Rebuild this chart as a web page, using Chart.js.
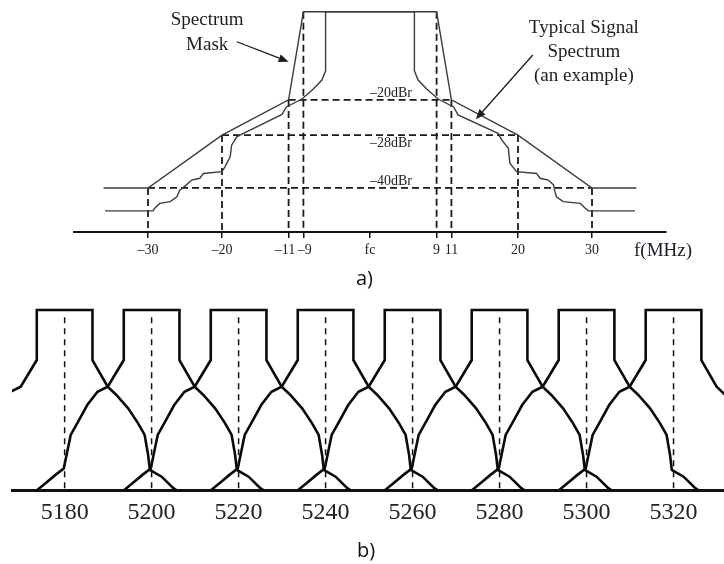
<!DOCTYPE html>
<html><head><meta charset="utf-8">
<script src="https://cdn.jsdelivr.net/npm/chart.js@4/dist/chart.umd.min.js"></script>
<style>
html,body{margin:0;padding:0;background:#fff;}
#wrap{position:relative;width:724px;height:564px;overflow:hidden;background:#fff;}
canvas{position:absolute;left:0;}
#ca{top:0;}
#cb{top:290px;}
.lbl{position:absolute;font-family:'Open Sans',sans-serif;font-size:20px;color:#111;line-height:1;}
</style></head><body>
<div id="wrap">
<canvas id="ca" width="724" height="262"></canvas>
<canvas id="cb" width="724" height="240"></canvas>
<div class="lbl" style="left:356px;top:268px">a)</div>
<div class="lbl" style="left:357px;top:540px">b)</div>
</div>
<script>
// ---------- Panel a data (MHz offset from fc, dBr) ----------
const maskFreq = [-36, -30, -20, -11, -9, 9, 11, 20, 30, 36];
const maskDb   = [-40, -40, -28, -20, 0, 0, -20, -28, -40, -40];
const signalFreq = [-35.8, -29.3, -29.1, -28.4, -27.0, -26.1, -25.7, -24.8, -24.1, -23.0, -22.5, -20.0, -19.6, -18.9, -18.7, -18.0, -17.3, -11.9, -11.3, -9.2, -7.7, -6.5, -6.0, -6.0,
                    6.0, 6.0, 6.5, 7.7, 9.2, 11.3, 11.9, 17.3, 17.8, 18.7, 18.9, 19.8, 22.5, 23.0, 24.1, 24.8, 25.0, 25.2, 26.1, 28.4, 29.1, 29.5, 35.8];
const signalDb   = [-45.2, -45.2, -44.6, -43.5, -43.1, -42.0, -40.5, -39.3, -38.2, -37.8, -36.7, -36.3, -35.2, -32.9, -30.3, -28.4, -27.8, -23.3, -21.6, -19.8, -17.6, -15.5, -13.4, 0,
                    0, -13.4, -15.5, -17.6, -19.8, -21.6, -23.4, -27.6, -29.1, -31.0, -34.4, -36.3, -36.7, -37.8, -38.2, -39.3, -40.9, -42.0, -43.1, -43.5, -44.6, -45.2, -45.2];
const tickFreqA   = [-30, -20, -11, -9, 0, 9, 11, 20, 30];
const tickLabelsA = ['\u201330', '\u201320', '\u201311\u2002', '\u2009\u20139', 'fc', '9', '11', '20', '30'];
const levelDb     = [-20, -28, -40];
const levelLabels = ['\u201320dBr', '\u201328dBr', '\u201340dBr'];
const floorDb = -50;

// ---------- Panel b data ----------
const channels = [5180, 5200, 5220, 5240, 5260, 5280, 5300, 5320];
const profileOffset = [-26.3, -24.4, -22.1, -20.2, -19.4, -18.6, -16.7, -14.8, -12.45, -10.1, -6.4, -6.4,
                       6.4, 6.4, 9.9, 11.9, 14.6, 16.9, 18.4, 19.2, 19.6, 22.3, 25.0, 25.7];
const profileDb     = [-50, -48.1, -45.8, -44.0, -39.4, -34.7, -30.6, -26.4, -22.7, -21.3, -13.9, 0,
                       0, -13.9, -21.3, -23.6, -27.3, -31.5, -34.7, -40.3, -44.4, -46.3, -49.5, -50];
const centerLineTopDb = -2;

const SERIF = "'Liberation Serif', 'Times New Roman', serif";

// ---------- Build panel a datasets ----------
const dsA = [];
dsA.push({
  data: maskFreq.map((f, i) => ({x: f, y: maskDb[i]})),
  borderColor: '#3c3c3c', borderWidth: 1.4, pointRadius: 0, tension: 0
});
dsA.push({
  data: signalFreq.map((f, i) => ({x: f, y: signalDb[i]})),
  borderColor: '#3c3c3c', borderWidth: 1.4, pointRadius: 0, tension: 0
});
const dashStyle = {borderColor: '#1a1a1a', borderWidth: 1.8, borderDash: [7, 4], pointRadius: 0, tension: 0};
maskFreq.forEach((f, i) => {
  if (Math.abs(f) <= 30) {
    dsA.push(Object.assign({data: [{x: f, y: maskDb[i]}, {x: f, y: floorDb}]}, dashStyle));
  }
});
levelDb.forEach(lv => {
  const xs = maskFreq.filter((f, i) => maskDb[i] === lv && Math.abs(f) <= 30);
  dsA.push(Object.assign({data: [{x: Math.min(...xs), y: lv}, {x: Math.max(...xs), y: lv}]}, dashStyle));
});

// annotation layout for panel a (data coordinates)
const annotTexts = [
  {t: 'Spectrum', f: -22.0, db: -1.9},
  {t: 'Mask', f: -22.0, db: -7.6},
  {t: 'Typical Signal', f: 28.9, db: -3.7},
  {t: 'Spectrum', f: 28.9, db: -9.2},
  {t: '(an example)', f: 28.9, db: -14.6}
];
const annotArrows = [
  {f0: -18.0, d0: -6.8, f1: -11.0, d1: -11.35},
  {f0: 22.0, d0: -9.8, f1: 14.3, d1: -24.4}
];

const annotPlugin = {
  id: 'annotA',
  afterDatasetsDraw(chart) {
    const {ctx, scales: {x, y}} = chart;
    ctx.save();
    ctx.fillStyle = '#1c1c28';
    ctx.textAlign = 'center';
    ctx.textBaseline = 'middle';
    ctx.font = '19px ' + SERIF;
    annotTexts.forEach(a => ctx.fillText(a.t, x.getPixelForValue(a.f), y.getPixelForValue(a.db)));
    // level labels
    ctx.font = '14px ' + SERIF;
    ctx.textAlign = 'left';
    levelDb.forEach((lv, i) => {
      const py = y.getPixelForValue(lv);
      ctx.fillText(levelLabels[i], x.getPixelForValue(0), lv === -28 ? py + 8 : py - 7);
    });
    // axis title
    ctx.font = '19px ' + SERIF;
    ctx.textAlign = 'center';
    ctx.fillText('f(MHz)', x.getPixelForValue(39.6), 251);
    // arrows
    ctx.strokeStyle = '#1c1c1c';
    ctx.fillStyle = '#1c1c1c';
    ctx.lineWidth = 1.3;
    annotArrows.forEach(a => {
      const x0 = x.getPixelForValue(a.f0), y0 = y.getPixelForValue(a.d0);
      const x1 = x.getPixelForValue(a.f1), y1 = y.getPixelForValue(a.d1);
      const ang = Math.atan2(y1 - y0, x1 - x0);
      const hl = 10, hw = 4;
      const bx = x1 - hl * Math.cos(ang), by = y1 - hl * Math.sin(ang);
      ctx.beginPath(); ctx.moveTo(x0, y0); ctx.lineTo(bx, by); ctx.stroke();
      ctx.beginPath();
      ctx.moveTo(x1, y1);
      ctx.lineTo(bx + hw * Math.sin(ang), by - hw * Math.cos(ang));
      ctx.lineTo(bx - hw * Math.sin(ang), by + hw * Math.cos(ang));
      ctx.closePath(); ctx.fill();
    });
    ctx.restore();
  }
};

new Chart(document.getElementById('ca'), {
  type: 'line',
  data: {datasets: dsA},
  options: {
    responsive: false, animation: false,
    layout: {padding: {left: 74, right: 58, top: 3, bottom: 0}},
    plugins: {legend: {display: false}, tooltip: {enabled: false}},
    scales: {
      x: {
        type: 'linear', min: -40, max: 40,
        afterBuildTicks: s => { s.ticks = tickFreqA.map(v => ({value: v})); },
        afterFit: s => { s.height = 30; },
        ticks: {autoSkip: false, maxRotation: 0, padding: 4, color: '#222',
                font: {family: SERIF, size: 14},
                callback: (v, i) => tickLabelsA[i]},
        grid: {display: true, drawOnChartArea: false, drawTicks: true, tickLength: 6, color: '#111', lineWidth: 1.5},
        border: {display: true, color: '#111', width: 2}
      },
      y: {type: 'linear', min: -50, max: 2, display: false}
    }
  },
  plugins: [annotPlugin]
});

// ---------- Panel b ----------
const dsB = [];
channels.forEach(c => {
  dsB.push({
    data: [{x: c, y: centerLineTopDb}, {x: c, y: floorDb}],
    borderColor: '#111', borderWidth: 1.5, borderDash: [6, 5], pointRadius: 0
  });
});
channels.forEach(c => {
  dsB.push({
    data: profileOffset.map((o, i) => ({x: c + o, y: profileDb[i]})),
    borderColor: '#0a0a0a', borderWidth: 2.6, pointRadius: 0, tension: 0
  });
});

new Chart(document.getElementById('cb'), {
  type: 'line',
  data: {datasets: dsB},
  options: {
    responsive: false, animation: false,
    layout: {padding: {left: 12, right: 0, top: 12.8, bottom: 0}},
    plugins: {legend: {display: false}, tooltip: {enabled: false}},
    scales: {
      x: {
        type: 'linear', min: 5167.9, max: 5331.6,
        afterBuildTicks: s => { s.ticks = channels.map(v => ({value: v})); },
        afterFit: s => { s.height = 40; },
        ticks: {autoSkip: false, maxRotation: 0, padding: 8, color: '#222',
                font: {family: SERIF, size: 24},
                callback: v => String(v)},
        grid: {display: false, drawTicks: false},
        border: {display: true, color: '#111', width: 3}
      },
      y: {type: 'linear', min: -50, max: 2, display: false}
    }
  }
});
</script>
</body></html>
